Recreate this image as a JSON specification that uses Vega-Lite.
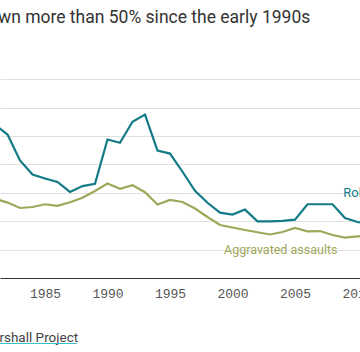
{
  "$schema": "https://vega.github.io/schema/vega-lite/v6.json",
  "width": 360,
  "height": 250,
  "autosize": {"type": "none"},
  "padding": {"left": 0, "right": 0, "top": 28, "bottom": 74},
  "background": "white",
  "title": {"text": "wn more than 50% since the early 1990s", "anchor": "start", "frame": "group", "font": "Roboto", "fontSize": 17.5, "fontWeight": "normal", "color": "#333333", "baseline": "alphabetic", "offset": -12, "dx": -2},
  "config": {"view": {"stroke": null}},
  "datasets": {
    "crime": [
      {"year": 1981, "series": "Robberies", "value": 270},
      {"year": 1982, "series": "Robberies", "value": 252.5},
      {"year": 1983, "series": "Robberies", "value": 207},
      {"year": 1984, "series": "Robberies", "value": 182},
      {"year": 1985, "series": "Robberies", "value": 175},
      {"year": 1986, "series": "Robberies", "value": 169},
      {"year": 1987, "series": "Robberies", "value": 151.4},
      {"year": 1988, "series": "Robberies", "value": 161.8},
      {"year": 1989, "series": "Robberies", "value": 165.8},
      {"year": 1990, "series": "Robberies", "value": 243.8},
      {"year": 1991, "series": "Robberies", "value": 238},
      {"year": 1992, "series": "Robberies", "value": 275},
      {"year": 1993, "series": "Robberies", "value": 287.7},
      {"year": 1994, "series": "Robberies", "value": 224.3},
      {"year": 1995, "series": "Robberies", "value": 219},
      {"year": 1996, "series": "Robberies", "value": 187},
      {"year": 1997, "series": "Robberies", "value": 153.5},
      {"year": 1998, "series": "Robberies", "value": 132.4},
      {"year": 1999, "series": "Robberies", "value": 115.1},
      {"year": 2000, "series": "Robberies", "value": 111.6},
      {"year": 2001, "series": "Robberies", "value": 120.4},
      {"year": 2002, "series": "Robberies", "value": 99.8},
      {"year": 2003, "series": "Robberies", "value": 99.8},
      {"year": 2004, "series": "Robberies", "value": 100.4},
      {"year": 2005, "series": "Robberies", "value": 102.8},
      {"year": 2006, "series": "Robberies", "value": 129.8},
      {"year": 2007, "series": "Robberies", "value": 129.8},
      {"year": 2008, "series": "Robberies", "value": 129.8},
      {"year": 2009, "series": "Robberies", "value": 105.6},
      {"year": 2010, "series": "Robberies", "value": 98.6},
      {"year": 2011, "series": "Robberies", "value": 96},
      {"year": 1981, "series": "Aggravated assaults", "value": 139.6},
      {"year": 1982, "series": "Aggravated assaults", "value": 132.7},
      {"year": 1983, "series": "Aggravated assaults", "value": 123.2},
      {"year": 1984, "series": "Aggravated assaults", "value": 125},
      {"year": 1985, "series": "Aggravated assaults", "value": 129.8},
      {"year": 1986, "series": "Aggravated assaults", "value": 127.1},
      {"year": 1987, "series": "Aggravated assaults", "value": 133.3},
      {"year": 1988, "series": "Aggravated assaults", "value": 141.2},
      {"year": 1989, "series": "Aggravated assaults", "value": 153.2},
      {"year": 1990, "series": "Aggravated assaults", "value": 166.2},
      {"year": 1991, "series": "Aggravated assaults", "value": 157},
      {"year": 1992, "series": "Aggravated assaults", "value": 163.2},
      {"year": 1993, "series": "Aggravated assaults", "value": 150.9},
      {"year": 1994, "series": "Aggravated assaults", "value": 129.4},
      {"year": 1995, "series": "Aggravated assaults", "value": 137.3},
      {"year": 1996, "series": "Aggravated assaults", "value": 133.8},
      {"year": 1997, "series": "Aggravated assaults", "value": 122.2},
      {"year": 1998, "series": "Aggravated assaults", "value": 107.4},
      {"year": 1999, "series": "Aggravated assaults", "value": 93.3},
      {"year": 2000, "series": "Aggravated assaults", "value": 88.9},
      {"year": 2001, "series": "Aggravated assaults", "value": 84.5},
      {"year": 2002, "series": "Aggravated assaults", "value": 80.5},
      {"year": 2003, "series": "Aggravated assaults", "value": 76.6},
      {"year": 2004, "series": "Aggravated assaults", "value": 81},
      {"year": 2005, "series": "Aggravated assaults", "value": 88},
      {"year": 2006, "series": "Aggravated assaults", "value": 82.2},
      {"year": 2007, "series": "Aggravated assaults", "value": 82.6},
      {"year": 2008, "series": "Aggravated assaults", "value": 75.7},
      {"year": 2009, "series": "Aggravated assaults", "value": 71.1},
      {"year": 2010, "series": "Aggravated assaults", "value": 73.4},
      {"year": 2011, "series": "Aggravated assaults", "value": 72}
    ],
    "one": [{"n": 1}]
  },
  "layer": [
    {
      "data": {"name": "crime"},
      "mark": {"type": "line", "strokeWidth": 2.2, "clip": true},
      "encoding": {
        "x": {"field": "year", "type": "quantitative",
          "scale": {"domain": [1981.4, 2010.2], "nice": false, "zero": false},
          "axis": {"values": [1985, 1990, 1995, 2000, 2005, 2010], "format": "d", "title": null, "grid": false, "ticks": false, "tickSize": 0,
            "labelFont": "Liberation Mono", "labelFontSize": 13, "labelColor": "#555555", "labelPadding": 9,
            "domainColor": "#333333", "domainWidth": 1.2, "labelFlush": false, "labelOverlap": false, "labelBound": false}},
        "y": {"field": "value", "type": "quantitative",
          "scale": {"domain": [0, 440], "nice": false},
          "axis": {"values": [50, 100, 150, 200, 250, 300, 350], "grid": true, "gridColor": "#e0e0e0", "gridWidth": 1, "labels": false, "ticks": false, "domain": false, "title": null}},
        "color": {"field": "series", "type": "nominal",
          "scale": {"domain": ["Robberies", "Aggravated assaults"], "range": ["#137b87", "#a0a75b"]}, "legend": null}
      }
    },
    {
      "data": {"name": "one"},
      "mark": {"type": "text", "align": "left", "baseline": "alphabetic", "font": "Roboto", "fontSize": 13, "fontWeight": "normal", "fill": "#137b87"},
      "encoding": {"x": {"datum": 2008.86}, "y": {"datum": 142.6}, "text": {"value": "Robberies"}}
    },
    {
      "data": {"name": "one"},
      "mark": {"type": "text", "align": "left", "baseline": "alphabetic", "font": "Roboto", "fontSize": 12.5, "fontWeight": "normal", "fill": "#a0a75b"},
      "encoding": {"x": {"datum": 1999.32}, "y": {"datum": 41.7}, "text": {"value": "Aggravated assaults"}}
    },
    {
      "data": {"name": "one"},
      "mark": {"type": "text", "align": "left", "baseline": "alphabetic", "font": "Roboto", "fontSize": 13.5, "fontWeight": "normal", "fill": "#444444"},
      "encoding": {"x": {"datum": 1981.35}, "y": {"datum": -112.6}, "text": {"value": "rshall Project"}}
    },
    {
      "data": {"name": "one"},
      "mark": {"type": "rule", "color": "#3bbfc9", "strokeWidth": 1},
      "encoding": {"x": {"datum": 1981.4}, "x2": {"datum": 1987.56}, "y": {"datum": -115.3}}
    }
  ]
}
